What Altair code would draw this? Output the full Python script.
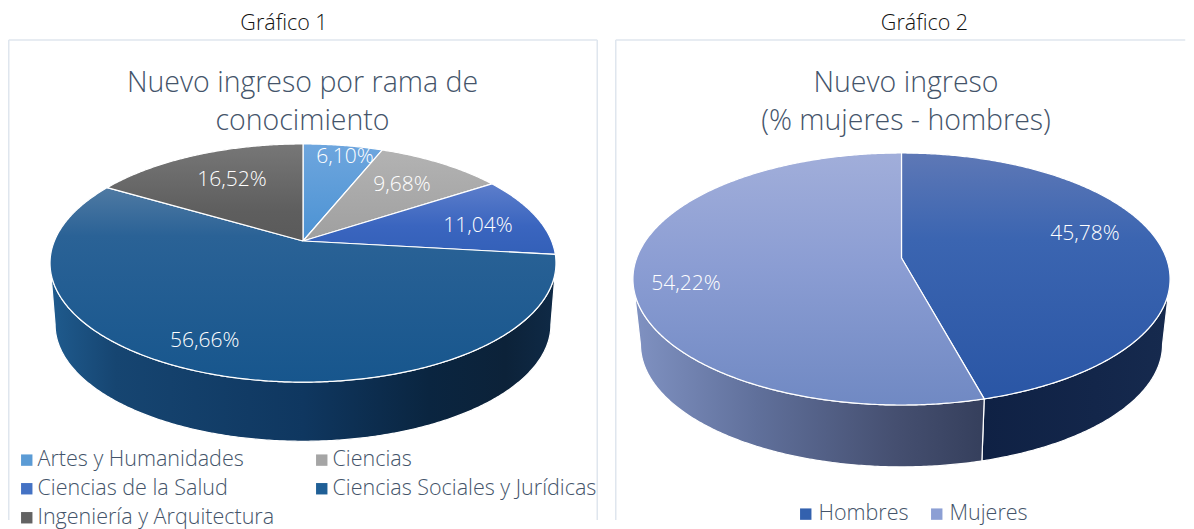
import math
import altair as alt
import pandas as pd

# ---- chart values ----
cats1 = ["Artes y Humanidades", "Ciencias", "Ciencias de la Salud",
         "Ciencias Sociales y Jurídicas", "Ingeniería y Arquitectura"]
vals1 = [6.10, 9.68, 11.04, 56.66, 16.52]
labels1 = ["6,10%", "9,68%", "11,04%", "56,66%", "16,52%"]
legend1 = ["#5b9bd5", "#a5a5a5", "#4472c4", "#1f5f96", "#636363"]

cats2 = ["Hombres", "Mujeres"]
vals2 = [45.78, 54.22]
labels2 = ["45,78%", "54,22%"]
legend2 = ["#3361ae", "#8c9fd4"]

FONT = "Open Sans"
TXT = "#44546a"
BORDER = "#dfe6ee"


def grad(stops, horizontal=False):
    return alt.Gradient(
        gradient="linear",
        stops=[alt.GradientStop(color=c, offset=o) for o, c in stops],
        x1=0, y1=0, x2=1 if horizontal else 0, y2=0 if horizontal else 1,
    )


top1 = [
    [(0, "#6ea6de"), (1, "#4b92d3")],
    [(0, "#b3b3b3"), (1, "#9f9f9f")],
    [(0, "#5d7ecb"), (0.6, "#3a65bf"), (1, "#3360b8")],
    [(0, "#4f7aa3"), (0.25, "#2a6296"), (1, "#17568d")],
    [(0, "#777777"), (0.7, "#5e5e5e"), (1, "#5a5a5a")],
]
wall1 = {
    3: [(0, "#1f5b8e"), (0.13, "#164571"), (0.5, "#0f3760"), (0.75, "#0a2540"),
        (0.9, "#0c2239"), (1, "#0f2a46")],
}
top2 = [
    [(0, "#5e78b6"), (0.35, "#3b65b1"), (1, "#2a56a5")],
    [(0, "#a1aeda"), (0.45, "#8b9dd3"), (1, "#7089c3")],
]
wall2 = {
    0: [(0, "#0f2144"), (0.6, "#13264a"), (1, "#162a4e")],
    1: [(0, "#8092c2"), (0.35, "#60709b"), (0.75, "#454f70"), (1, "#353f5c")],
}


def project(theta, g, scale=1.0, drop=0.0, frac=1.0):
    t = math.radians(theta)
    x, y = frac * math.sin(t), frac * math.cos(t)
    d = 1 + g["k"] * y
    return (g["cx"] + scale * g["R"] * x / d,
            g["cy"] + drop - scale * g["a"] * y / d)


def wedge(t1, t2, g):
    n = max(2, int(t2 - t1) * 2)
    pts = [(g["cx"], g["cy"])]
    pts += [project(t1 + (t2 - t1) * i / n, g) for i in range(n + 1)]
    pts.append((g["cx"], g["cy"]))
    return pts


def side(t1, t2, g):
    n = max(2, int(t2 - t1) * 2)
    pts = [project(t1 + (t2 - t1) * i / n, g) for i in range(n + 1)]
    pts += [project(t2 - (t2 - t1) * i / n, g, g["s"], g["drop"]) for i in range(n + 1)]
    pts.append(pts[0])
    return pts


def shape_df(pts):
    return pd.DataFrame({"px": [p[0] for p in pts], "py": [p[1] for p in pts],
                         "o": range(len(pts))})


def panel(vals, cats, colors, labels, tops, walls, g, box, title_lines, head, nudge, radius, leg):
    x0, x1 = box
    xs = alt.Scale(domain=[x0, x1], nice=False, zero=False)
    ys = alt.Scale(domain=[8, 521], reverse=True, nice=False, zero=False)
    X = alt.X("px:Q", scale=xs, axis=None)
    Y = alt.Y("py:Q", scale=ys, axis=None)
    layers = []
    edges = [0.0]
    for v in vals:
        edges.append(edges[-1] + v * 3.6)
    edges[-1] = 360.0
    # visible rim of the disc
    vis0 = math.degrees(math.acos(-g["k"]))
    vis1 = 360 - vis0
    for i in walls:
        a, b = max(edges[i], vis0), min(edges[i + 1], vis1)
        layers.append(
            alt.Chart(shape_df(side(a, b, g)))
            .mark_line(filled=True, fill=grad(walls[i], True), stroke="white", strokeWidth=1.2)
            .encode(x=X, y=Y, order="o:Q"))
    for i, t in enumerate(tops):
        layers.append(
            alt.Chart(shape_df(wedge(edges[i], edges[i + 1], g)))
            .mark_line(filled=True, fill=grad(t), stroke="white", strokeWidth=1.2,
                       strokeJoin="round")
            .encode(x=X, y=Y, order="o:Q"))
    # data labels
    pos = [project((edges[i] + edges[i + 1]) / 2 + nudge[i], g, frac=radius[i]) for i in range(len(vals))]
    lab = pd.DataFrame({"px": [p[0] for p in pos], "py": [p[1] for p in pos], "t": labels})
    layers.append(alt.Chart(lab).mark_text(font=FONT, fontWeight=300, fontSize=g["lab"], color="white",
                                           baseline="middle", align="center")
                  .encode(x=X, y=Y, text="t:N"))
    # headings
    tt = pd.DataFrame({"px": [g["tx"]] * len(title_lines), "py": g["ty"], "t": title_lines})
    layers.append(alt.Chart(tt).mark_text(font=FONT, fontWeight=300, fontSize=g["title"], color=TXT,
                                          baseline="middle", align="center")
                  .encode(x=X, y=Y, text="t:N"))
    hd = pd.DataFrame({"px": [head[0]], "py": [head[1]], "t": [head[2]]})
    layers.append(alt.Chart(hd).mark_text(font=FONT, fontWeight=300, fontSize=21.5, color="#111111",
                                          baseline="middle", align="center")
                  .encode(x=X, y=Y, text="t:N"))
    # frame
    w = x1 - x0
    layers.append(alt.Chart(pd.DataFrame({"a": [0]})).mark_rule(color=BORDER, strokeWidth=1.5)
                  .encode(x=alt.value(0.75), x2=alt.value(w - 0.75), y=alt.value(32)))
    layers.append(alt.Chart(pd.DataFrame({"a": [0]})).mark_rule(color=BORDER, strokeWidth=1.5)
                  .encode(x=alt.value(0.75), y=alt.value(32), y2=alt.value(512)))
    if g["right"]:
        layers.append(alt.Chart(pd.DataFrame({"a": [0]})).mark_rule(color=BORDER, strokeWidth=1.5)
                      .encode(x=alt.value(w - 0.75), y=alt.value(32), y2=alt.value(512)))
    # legend
    ld = pd.DataFrame({"cat": cats, "px": [g["cx"]] * len(cats), "py": [g["cy"]] * len(cats)})
    layers.append(alt.Chart(ld).mark_point(filled=True, opacity=0, size=1).encode(
        x=X, y=Y,
        color=alt.Color("cat:N", scale=alt.Scale(domain=cats, range=colors), sort=cats,
                        legend=alt.Legend(title=None, orient="none", legendX=leg["x"], legendY=leg["y"],
                                          columns=2, direction="horizontal", symbolType="square",
                                          symbolSize=leg["sym"], symbolOpacity=1, symbolStrokeWidth=0,
                                          labelFont=FONT, labelFontWeight=300, labelFontSize=leg["fs"],
                                          labelColor=TXT, labelLimit=400, rowPadding=leg["row"],
                                          columnPadding=leg["col"], labelOffset=leg["off"], gridAlign="each"))))
    return alt.layer(*layers).resolve_scale(color="independent").properties(width=w, height=513)


g1 = dict(cx=303, cy=241, R=248.6, a=115, k=0.185, s=0.98, drop=62, lab=21, title=28.5,
          tx=302.5, ty=[82.5, 120.5], right=True)
g2 = dict(cx=901.5, cy=258, R=264.8, a=122.5, k=0.1667, s=0.972, drop=66, lab=21, title=28.5,
          tx=906, ty=[82.5, 120.5], right=False)

p1 = panel(vals1, cats1, legend1, labels1, top1, wall1, g1, (8, 598),
           ["Nuevo ingreso por rama de", "conocimiento"], (284, 24, "Gráfico 1"),
           [2, 0, 3, 6, 1.4], [0.867, 0.69, 0.733, 0.82, 0.668],
           dict(x=8, y=441, sym=130, fs=21.5, row=6, col=36, off=0))
p2 = panel(vals2, cats2, legend2, labels2, top2, wall2, g2, (615, 1186),
           ["Nuevo ingreso", "(% mujeres - hombres)"], (924.5, 24, "Gráfico 2"),
           [-8.2, -7], [0.744, 0.812],
           dict(x=180, y=495, sym=130, fs=21.5, row=6, col=17, off=2))

chart = (alt.hconcat(p1, p2, spacing=17)
         .properties(padding=0, background="white")
         .configure_view(stroke=None))
chart.save("out.html", embed_options={"renderer": "svg", "actions": False})
